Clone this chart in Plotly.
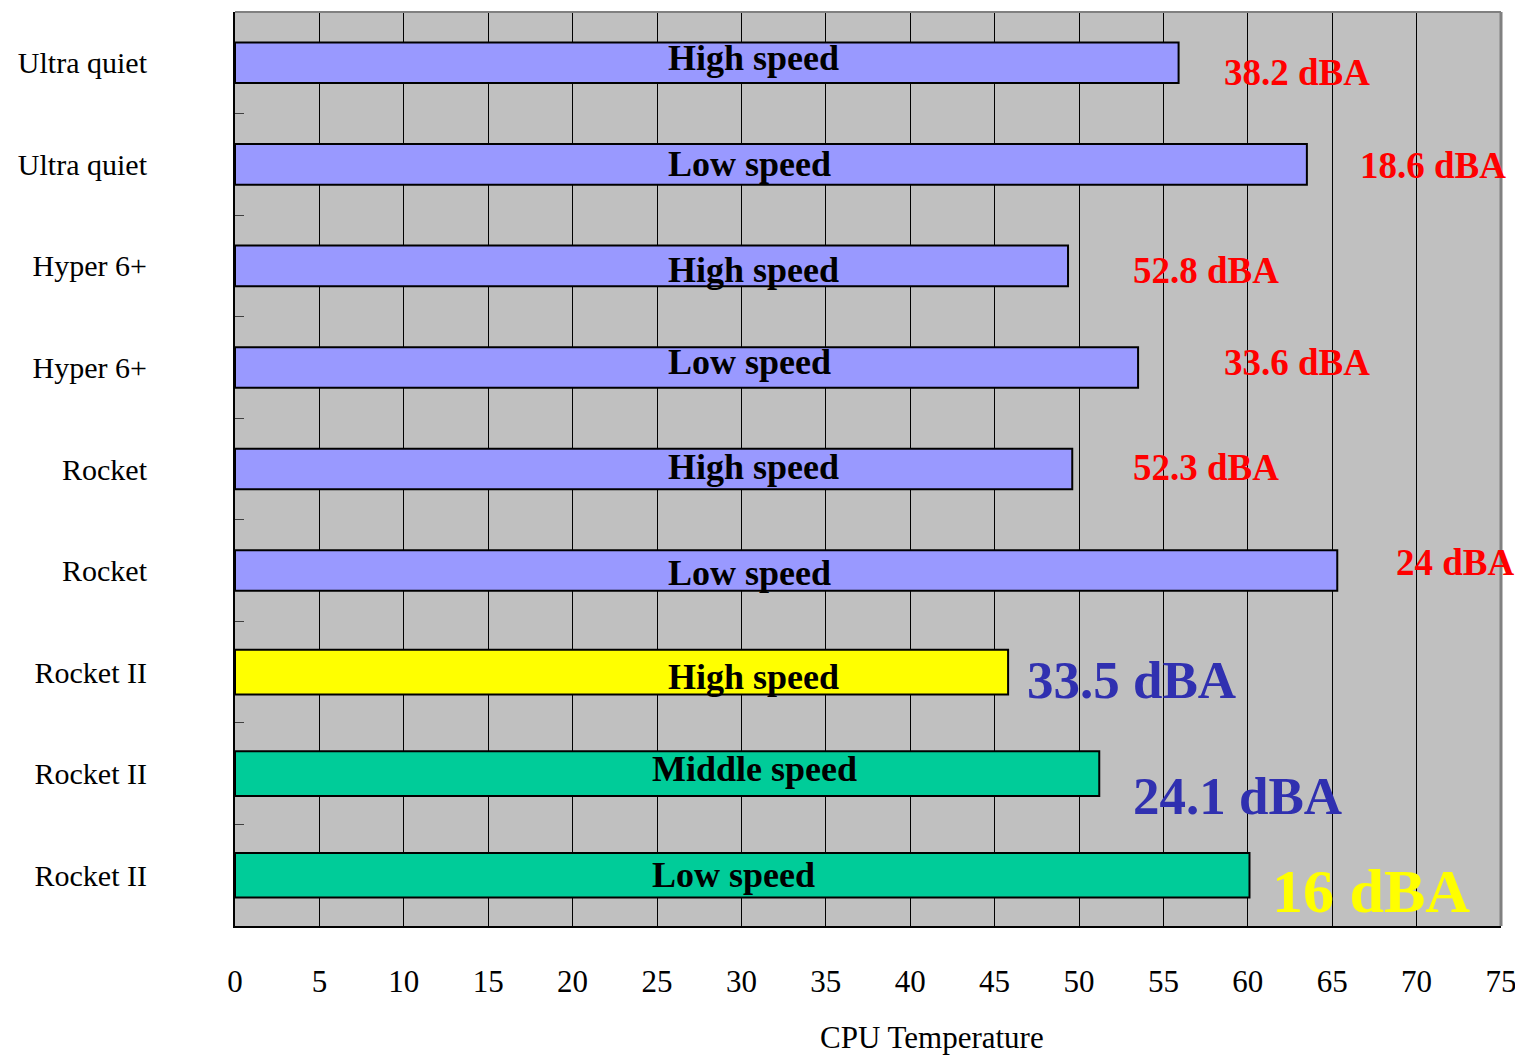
import plotly.graph_objects as go

# ---- data ----
coolers = ["Ultra quiet", "Ultra quiet", "Hyper 6+", "Hyper 6+", "Rocket", "Rocket",
           "Rocket II", "Rocket II", "Rocket II"]
speeds = ["High speed", "Low speed", "High speed", "Low speed", "High speed", "Low speed",
          "High speed", "Middle speed", "Low speed"]
cpu_temp = [55.9, 63.5, 49.35, 53.5, 49.6, 65.3, 45.8, 51.2, 60.1]
noise = ["38.2 dBA", "18.6 dBA", "52.8 dBA", "33.6 dBA", "52.3 dBA", "24 dBA",
         "33.5 dBA", "24.1 dBA", "16 dBA"]
x_ticks = list(range(0, 80, 5))

# ---- styles / positions ----
bar_colors = ["#9999FF"] * 6 + ["#FFFF00", "#00CC99", "#00CC99"]
bar_widths = [0.40] * 6 + [0.44, 0.44, 0.44]
speed_x = [30.7, 30.45, 30.7, 30.45, 30.7, 30.45, 30.7, 30.8, 29.56]
speed_dy = [-0.05, 0.0, 0.04, -0.05, -0.02, 0.02, 0.05, -0.05, 0.0]
noise_x = [62.9, 71.0, 57.5, 62.9, 57.5, 72.3, 53.1, 59.4, 67.3]
noise_y = [0.10, 1.01, 2.05, 2.95, 3.99, 4.92, 6.08, 7.22, 8.16]
noise_colors = ["#FF0000"] * 6 + ["#3030B0", "#3030B0", "#FFFF00"]
noise_sizes = [37] * 6 + [53, 53, 62]

FONT = "Liberation Serif"
idx = list(range(len(coolers)))

fig = go.Figure()
fig.add_trace(go.Bar(
    y=idx, x=cpu_temp, orientation="h",
    width=bar_widths,
    marker=dict(color=bar_colors, line=dict(color="#000000", width=2)),
    hoverinfo="skip",
))

for i in idx:
    fig.add_annotation(x=speed_x[i], y=i + speed_dy[i], text="<b>%s</b>" % speeds[i],
                       showarrow=False, xanchor="center", yanchor="middle",
                       font=dict(family=FONT, size=36, color="#000000"))
    fig.add_annotation(x=noise_x[i], y=noise_y[i], text="<b>%s</b>" % noise[i],
                       showarrow=False, xanchor="center", yanchor="middle",
                       font=dict(family=FONT, size=noise_sizes[i], color=noise_colors[i]))

fig.add_annotation(x=41.3, y=-0.122, xref="x", yref="paper", text="CPU Temperature",
                   showarrow=False, xanchor="center", yanchor="middle",
                   font=dict(family=FONT, size=31, color="#000000"))

fig.update_layout(
    width=1515, height=1058,
    margin=dict(l=235, r=14, t=12, b=132),
    plot_bgcolor="#C0C0C0", paper_bgcolor="#FFFFFF",
    showlegend=False,
    font=dict(family=FONT, color="#000000"),
    bargap=0.6,
)
fig.update_xaxes(
    range=[0, 75], tickvals=x_ticks, ticktext=[str(v) for v in x_ticks],
    showgrid=True, gridcolor="#000000", gridwidth=1,
    showline=True, linecolor="#000000", linewidth=2, mirror=False,
    ticks="", ticklabelstandoff=27, ticklabeloverflow="allow", automargin=False,
    tickfont=dict(family=FONT, size=31, color="#000000"),
    zeroline=False, fixedrange=True,
)
fig.update_yaxes(
    range=[8.5, -0.5], tickvals=idx, ticktext=coolers,
    showgrid=False, zeroline=False,
    showline=True, linecolor="#000000", linewidth=2,
    ticks="", ticklabelstandoff=80, automargin=False,
    tickfont=dict(family=FONT, size=30, color="#000000"),
    minor=dict(tickvals=[i + 0.5 for i in idx[:-1]], ticks="inside", ticklen=9,
               tickcolor="#404040", tickwidth=1, showgrid=False),
    fixedrange=True,
)
# gray top/right frame
fig.add_shape(type="line", xref="paper", yref="paper", x0=0, x1=1, y0=1, y1=1,
              line=dict(color="#808080", width=2))
fig.add_shape(type="line", xref="paper", yref="paper", x0=1, x1=1, y0=0, y1=1,
              line=dict(color="#808080", width=3))

fig.write_html(
    "out.html",
    config={"displayModeBar": False},
    post_script="document.body.style.margin='0';document.body.style.overflow='hidden';",
)
